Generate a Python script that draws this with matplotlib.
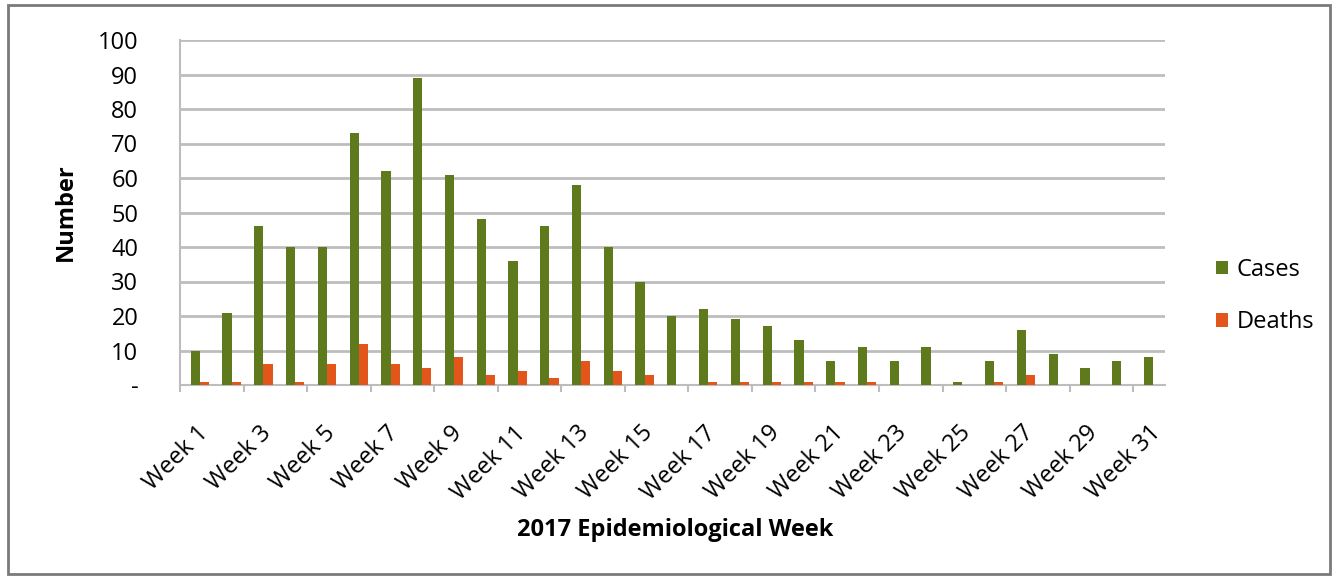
import numpy as np
import matplotlib.pyplot as plt
import matplotlib.transforms as mtransforms
from matplotlib.patches import Rectangle
from matplotlib.ticker import FuncFormatter

plt.rcParams['font.family'] = ['Open Sans', 'DejaVu Sans']

weeks = [f"Week {i}" for i in range(1, 32)]
cases = [10, 21, 46, 40, 40, 73, 62, 89, 61, 48, 36, 46, 58, 40, 30, 20,
         22, 19, 17, 13, 7, 11, 7, 11, 1, 7, 16, 9, 5, 7, 8]
deaths = [1, 1, 6, 1, 6, 12, 6, 5, 8, 3, 4, 2, 7, 4, 3, 0,
          1, 1, 1, 1, 1, 1, 0, 0, 0, 1, 3, 0, 0, 0, 0]

green = "#5f7a1c"
orange = "#e2561c"
grid_c = "#bdbdbd"

fig = plt.figure(figsize=(13.36, 5.77), dpi=100)
ax = fig.add_axes([180 / 1336, 1 - 385 / 577, 985 / 1336, 345 / 577])

x = np.arange(len(weeks))
w = 0.29
ax.bar(x - 0.02, cases, width=w, color=green, label="Cases", zorder=3)
ax.bar(x + w - 0.02, deaths, width=w, color=orange, label="Deaths", zorder=3)

ax.set_xlim(-0.5, len(weeks) - 0.5)
ax.set_ylim(0, 100)
ax.set_yticks(range(0, 101, 10))
ax.yaxis.set_major_formatter(FuncFormatter(lambda v, p: "-" if v == 0 else f"{int(v)}"))
ax.yaxis.grid(True, color=grid_c, linewidth=2)
ax.set_axisbelow(True)

# labels on every other week, tick marks on every second category boundary
ax.set_xticks(x[::2])
ax.set_xticklabels(weeks[::2], rotation=45, ha="right", va="top",
                   rotation_mode="anchor")
shift = mtransforms.ScaledTranslation(10 / 100, 0, fig.dpi_scale_trans)
for lbl in ax.get_xticklabels():
    lbl.set_transform(lbl.get_transform() + shift)
ax.set_xticks(np.arange(-0.5, len(weeks), 2), minor=True)
ax.tick_params(axis="x", which="major", length=0, labelsize=17, pad=26)
ax.tick_params(axis="x", which="minor", length=5, color=grid_c, width=1.5)
ax.tick_params(axis="y", length=0, labelsize=17, pad=30)

for s in ["top", "right"]:
    ax.spines[s].set_visible(False)
for s in ["left", "bottom"]:
    ax.spines[s].set_color(grid_c)
    ax.spines[s].set_linewidth(1.5)

ax.set_ylabel("Number", fontsize=17, fontweight="bold", labelpad=14)
fig.text(675 / 1336, 1 - 530 / 577, "2017 Epidemiological Week",
         fontsize=17, fontweight="bold", ha="center", va="center")

fig.legend(loc="center left", bbox_to_anchor=(1195 / 1336, 1 - 296 / 577),
           frameon=False, fontsize=17, handlelength=0.5, handleheight=0.5,
           handletextpad=0.35, labelspacing=1.2)

fig.patches.append(Rectangle((8 / 1336, 3 / 577), 1322 / 1336, 569 / 577,
                             transform=fig.transFigure, fill=False,
                             edgecolor="#7a7a7a", linewidth=2))

fig.savefig("out.png", dpi=100)
